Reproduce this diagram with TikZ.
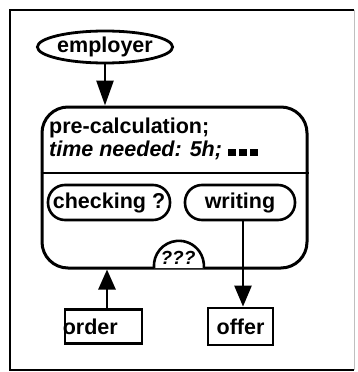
\documentclass[tikz,border=0pt]{standalone}
\usepackage{fontspec}
\setmainfont{Liberation Sans}
\usetikzlibrary{arrows.meta,shapes.geometric}
\begin{document}
\begin{tikzpicture}[x=1pt,y=-1pt,
  lbl/.style={font=\bfseries\fontsize{21.5}{25}\selectfont},
  pill/.style={draw,line width=2.6pt,rounded corners=17pt,minimum height=35pt,inner sep=0pt,lbl},
  docbox/.style={draw,line width=2.8pt,minimum height=34pt,inner sep=0pt,lbl},
  flow/.style={line width=2.6pt,-{Triangle[length=#1,width=17pt]}},
  flow/.default=22pt]
\useasboundingbox (0,0) rectangle (357,372);
% page frame
\draw[line width=2pt] (354,10) -- (10,10) -- (10,370) -- (354,370);
\draw[line width=0.8pt,black!25] (354,10) -- (354,370);
% state node
\node[ellipse,draw,line width=2.8pt,minimum width=124pt,minimum height=32pt,inner sep=0pt,lbl]
  (employer) at (105,47) {employer};
\node[draw,line width=3pt,rounded corners=26pt,minimum width=265pt,minimum height=161pt,inner sep=0pt]
  (main) at (174.5,187.5) {};
\draw[line width=2pt] (main.west |- 0,173) coordinate (sepl) -- (main.east |- 0,173) coordinate (sepr);
\node[lbl,anchor=base west,inner sep=0pt] (title) at (49,133) {pre-calculation;};
\node[lbl,anchor=base west,inner sep=0pt] (attr) at (49,156)
  {\itshape time needed: 5h; \rule{8pt}{7pt}\hspace{3pt}\rule{8pt}{7pt}\hspace{3pt}\rule{8pt}{7pt}};
\node[pill,minimum width=122pt] (check) at (109,202.5) {checking ?};
\node[pill,minimum width=110pt] (write) at (240,202.5) {writing};
% history marker on the lower edge
\draw[line width=2.6pt,fill=white] (154,268) arc[start angle=185,end angle=-5,radius=25pt] coordinate (qr);
\node[font=\bfseries\itshape\fontsize{19}{22}\selectfont,inner sep=0pt] (q) at (178,258) {???};
% documents
\node[docbox,minimum width=77pt] (order) at (103.5,326.5) {};
\node[lbl,anchor=west,inner sep=0pt] (ordert) at ([xshift=-1pt]order.west) {order};
\node[docbox,minimum width=65pt,minimum height=37pt] (offer) at (240.5,326.5) {offer};
% flows
\draw[flow=25pt] (employer.south) -- (employer.south |- main.north);
\draw[flow=20pt] ([xshift=3.5pt]order.north) -- ([xshift=3.5pt]order.north |- main.south);
\draw[flow=21pt] ([xshift=3pt]write.south) -- ([xshift=3pt]write.south |- offer.north);
\end{tikzpicture}
\end{document}
